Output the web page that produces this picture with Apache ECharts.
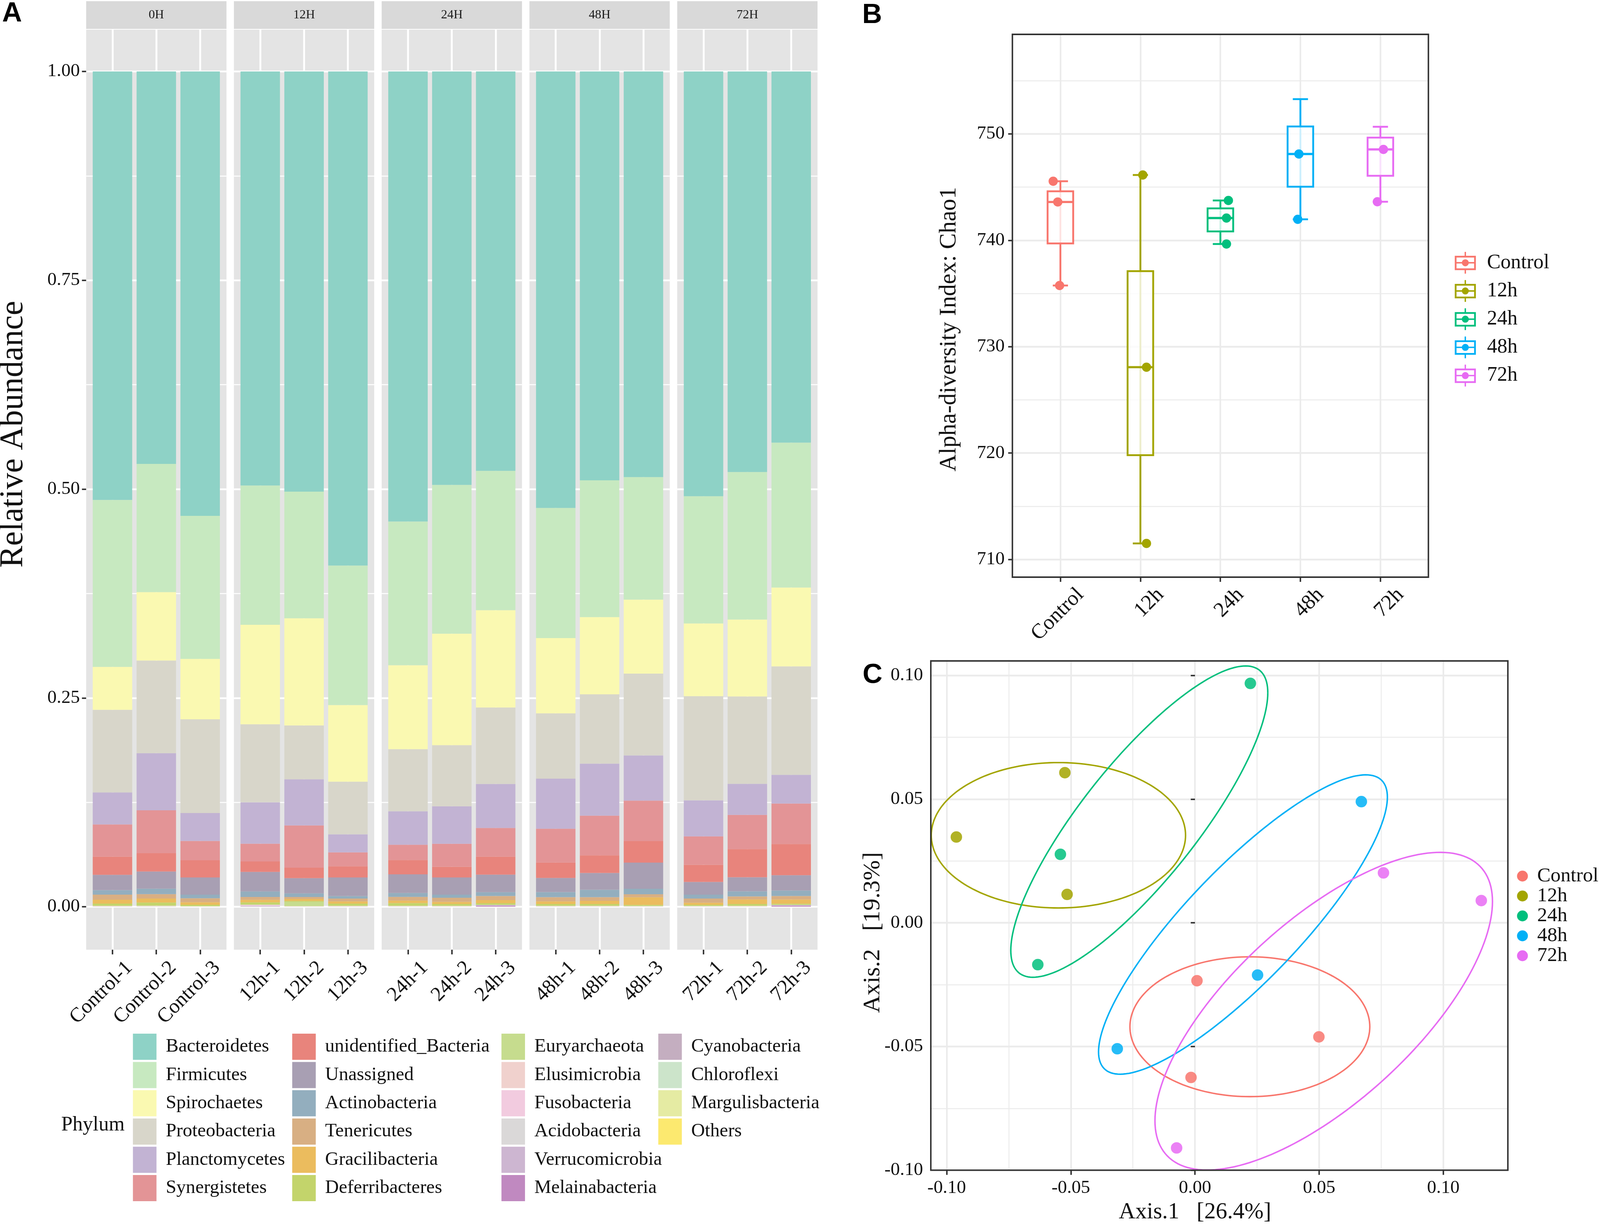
<!DOCTYPE html>
<html><head><meta charset="utf-8">
<script src="https://cdn.jsdelivr.net/npm/echarts@6/dist/echarts.min.js"></script>
<style>html,body{margin:0;padding:0;background:#fff;overflow:hidden}#c{width:100vw;height:100vh}</style>
</head><body><div id="c"></div>
<script>
// ---------------- Panel A data ----------------
const samples = ['Control-1','Control-2','Control-3','12h-1','12h-2','12h-3','24h-1','24h-2','24h-3','48h-1','48h-2','48h-3','72h-1','72h-2','72h-3'];
const facets = ['0H','12H','24H','48H','72H'];
const phyla = ['Bacteroidetes','Firmicutes','Spirochaetes','Proteobacteria','Planctomycetes','Synergistetes','unidentified_Bacteria','Unassigned','Actinobacteria','Tenericutes','Gracilibacteria','Deferribacteres','Euryarchaeota','Elusimicrobia','Fusobacteria','Acidobacteria','Verrucomicrobia','Melainabacteria','Cyanobacteria','Chloroflexi','Margulisbacteria','Others'];
const phylaColors = ['#8ED2C6','#C7E9C0','#FAF9B1','#D8D6CA','#C2B3D3','#E39496','#E8847C','#A89FB3','#93AEBE','#D8AF83','#EBBC5E','#C3D46B','#C6DC8E','#F0D1CD','#F2CBDF','#DAD8D8','#CDB6D1','#C089C0','#C4AEC0','#CCE4CA','#E5EBA3','#FCE96F'];

const Bacteroidetes   = [0.5133,0.4701,0.5323,0.4959,0.5032,0.5918,0.5391,0.4953,0.4783,0.5228,0.4898,0.4858,0.5088,0.4799,0.4446];
const Firmicutes      = [0.1998,0.1535,0.1713,0.1668,0.1516,0.1670,0.1720,0.1781,0.1668,0.1558,0.1637,0.1467,0.1523,0.1765,0.1734];
const Spirochaetes    = [0.0515,0.0819,0.0723,0.1191,0.1284,0.0918,0.1006,0.1335,0.1166,0.0902,0.0925,0.0886,0.0871,0.0922,0.0945];
const Proteobacteria  = [0.0988,0.1109,0.1122,0.0933,0.0644,0.0630,0.0743,0.0731,0.0915,0.0782,0.0829,0.0979,0.1247,0.1046,0.1298];
const Planctomycetes  = [0.0384,0.0684,0.0334,0.0496,0.0552,0.0216,0.0401,0.0449,0.0527,0.0599,0.0624,0.0541,0.0431,0.0371,0.0344];
const Synergistetes   = [0.0385,0.0514,0.0232,0.0213,0.0506,0.0166,0.0182,0.0275,0.0344,0.0405,0.0474,0.0486,0.0340,0.0409,0.0484];
const unidentified_Bacteria = [0.0218,0.0219,0.0205,0.0125,0.0126,0.0134,0.0172,0.0128,0.0214,0.0184,0.0212,0.0257,0.0206,0.0338,0.0374];
const Unassigned      = [0.0183,0.0206,0.0206,0.0233,0.0182,0.0222,0.0223,0.0206,0.0211,0.0170,0.0201,0.0313,0.0152,0.0168,0.0183];
const Actinobacteria  = [0.0054,0.0065,0.0043,0.0067,0.0043,0.0031,0.0047,0.0037,0.0046,0.0061,0.0089,0.0065,0.0047,0.0061,0.0066];
const Tenericutes     = [0.0061,0.0053,0.0048,0.0034,0.0024,0.0034,0.0044,0.0050,0.0049,0.0050,0.0044,0.0037,0.0050,0.0036,0.0041];
const Gracilibacteria = [0.0047,0.0048,0.0031,0.0030,0.0024,0.0027,0.0031,0.0025,0.0037,0.0031,0.0037,0.0091,0.0025,0.0055,0.0051];
const Deferribacteres = [0.0024,0.0035,0.0015,0.0026,0.0012,0.0024,0.0030,0.0020,0.0020,0.0020,0.0020,0.0012,0.0012,0.0020,0.0014];
const Euryarchaeota   = [0.0004,0.0005,0.0002,0.0005,0.0050,0.0004,0.0004,0.0004,0.0000,0.0004,0.0004,0.0003,0.0003,0.0004,0.0000];
const Elusimicrobia   = [0.0003,0.0003,0.0001,0.0000,0.0002,0.0003,0.0003,0.0003,0.0000,0.0003,0.0003,0.0002,0.0002,0.0003,0.0000];
const Fusobacteria    = [0.0003,0.0004,0.0002,0.0012,0.0003,0.0003,0.0003,0.0003,0.0000,0.0003,0.0003,0.0003,0.0003,0.0003,0.0000];
const Acidobacteria   = [0.0001,0.0001,0.0001,0.0001,0.0001,0.0001,0.0001,0.0001,0.0001,0.0001,0.0001,0.0001,0.0001,0.0001,0.0001];
const Verrucomicrobia = [0.0000,0.0000,0.0000,0.0008,0.0000,0.0000,0.0000,0.0000,0.0008,0.0000,0.0000,0.0000,0.0000,0.0000,0.0008];
const Melainabacteria = [0.0000,0.0000,0.0000,0.0000,0.0000,0.0000,0.0000,0.0000,0.0012,0.0000,0.0000,0.0000,0.0000,0.0000,0.0012];
const Cyanobacteria   = [0.0001,0.0000,0.0000,0.0000,0.0000,0.0001,0.0000,0.0000,0.0000,0.0000,0.0000,0.0000,0.0001,0.0000,0.0000];
const Chloroflexi     = [0.0000,0.0001,0.0000,0.0000,0.0000,0.0000,0.0001,0.0000,0.0000,0.0001,0.0000,0.0000,0.0000,0.0000,0.0000];
const Margulisbacteria= [0.0000,0.0000,0.0001,0.0000,0.0000,0.0000,0.0000,0.0001,0.0000,0.0000,0.0001,0.0000,0.0000,0.0001,0.0000];
const Others          = [0.0001,0.0001,0.0001,0.0001,0.0001,0.0001,0.0001,0.0001,0.0001,0.0001,0.0001,0.0001,0.0001,0.0001,0.0001];
const phylaValues = [Bacteroidetes,Firmicutes,Spirochaetes,Proteobacteria,Planctomycetes,Synergistetes,unidentified_Bacteria,Unassigned,Actinobacteria,Tenericutes,Gracilibacteria,Deferribacteres,Euryarchaeota,Elusimicrobia,Fusobacteria,Acidobacteria,Verrucomicrobia,Melainabacteria,Cyanobacteria,Chloroflexi,Margulisbacteria,Others];
const abundanceTicks = [0, 0.25, 0.5, 0.75, 1];

// ---------------- Panel B data ----------------
const groups = ['Control','12h','24h','48h','72h'];
const groupColors = ['#F8766D','#A3A500','#00BF7D','#00B0F6','#E76BF3'];
const chaoControl = [745.55, 743.60, 735.75];
const chao12h     = [746.14, 728.07, 711.50];
const chao24h     = [743.74, 742.09, 739.65];
const chao48h     = [753.27, 748.11, 741.97];
const chao72h     = [750.67, 748.54, 743.62];
const jitterControl = [-0.09, -0.033, -0.01];
const jitter12h     = [0.03, 0.076, 0.076];
const jitter24h     = [0.10, 0.076, 0.076];
const jitter48h     = [-0.086, -0.019, -0.033];
const jitter72h     = [0.038, 0.038, -0.038];
// [min, Q1, median, Q3, max]
const boxControl = [735.75, 739.70, 743.60, 744.60, 745.55];
const box12h     = [711.50, 719.80, 728.07, 737.10, 746.14];
const box24h     = [739.65, 740.83, 742.09, 743.00, 743.74];
const box48h     = [741.97, 745.04, 748.11, 750.70, 753.27];
const box72h     = [743.62, 746.06, 748.54, 749.65, 750.67];
const chaoTicks = [710, 720, 730, 740, 750];

// ---------------- Panel C data ----------------
const pcoaControl = [[0.0008,-0.0234],[0.0499,-0.0461],[-0.0016,-0.0625]];
const pcoa12h     = [[-0.0524,0.0607],[-0.0961,0.0347],[-0.0515,0.0115]];
const pcoa24h     = [[0.0223,0.0968],[-0.0542,0.0277],[-0.0633,-0.0169]];
const pcoa48h     = [[0.0670,0.0490],[0.0252,-0.0211],[-0.0313,-0.0509]];
const pcoa72h     = [[0.0759,0.0202],[0.1153,0.0090],[-0.0074,-0.0910]];
// ellipse: [centerX, centerY, halfWidthX, halfHeightY, yOffsetAtRightmost]
const ellControl = [0.0221,-0.0420,0.0483,0.02826,0.0];
const ell12h     = [-0.0550,0.0354,0.0512,0.02939,0.0];
const ell24h     = [-0.02243,0.04092,0.05175,0.06292,0.05207];
const ell48h     = [0.01932,-0.00068,0.05816,0.06051,0.05147];
const ell72h     = [0.05184,-0.03572,0.06796,0.06421,0.04431];

// ---------------- layout scaling (reference frame 4550 x 3137) ----------------
const el = document.getElementById('c');
const VW = el.clientWidth || window.innerWidth, VH = el.clientHeight || window.innerHeight;
const sx = VW/4550, sy = VH/3137, sg = Math.sqrt(sx*sy);
const X = v => v*sx, Y = v => v*sy;
const FL = v => v*sx;     // horizontal text that must keep its width
const FH = v => v*sg;     // general horizontal text / strokes
const FV = v => v*sy;     // vertical (rotated 90) text
const FD = v => v*sg;     // diagonal text

const FONT = 'Liberation Serif';
const TXT = '#111';
const chart = echarts.init(el, null, {renderer:'canvas'});
const grids=[], xAxes=[], yAxes=[], series=[], graphics=[], legends=[];
function addGrid(g){ grids.push(Object.assign({containLabel:false, outerBoundsMode:'none'}, g)); return grids.length-1; }
function hiddenAxes(gi){ xAxes.push({gridIndex:gi, type:'value', show:false}); yAxes.push({gridIndex:gi, type:'value', show:false}); }
const xTick = show => ({show:show, length:Y(12), lineStyle:{color:'#333', width:FH(4)}});
const yTick = show => ({show:show, length:X(12), lineStyle:{color:'#333', width:FH(4)}});
function yTitle(left, centerY, height, text, gap, size){
  const gi = addGrid({left:X(left), top:Y(centerY-height/2), width:X(10), height:Y(height)});
  xAxes.push({gridIndex:gi, type:'value', show:false});
  yAxes.push({gridIndex:gi, type:'value', show:true, axisLine:{show:false}, axisTick:{show:false}, axisLabel:{show:false}, splitLine:{show:false},
    name:text, nameLocation:'middle', nameGap:X(gap), nameTextStyle:{fontFamily:FONT, fontSize:FV(size), color:TXT}});
}
// 45-degree labels hung from their top-right corner (like hjust=1, vjust=1)
function diagLabel(size, margin, shift){
  return {interval:0, rotate:45, align:'right', verticalAlign:'top', fontFamily:FONT, fontSize:FD(size), color:TXT,
    padding:[FD(shift/0.7071),0,0,0], margin:Y(margin)-FD(shift)};
}

// ===== Panel A =====
const A_top=76, A_h=2356, A_y1=183, A_y0=2322, panelW=399, unitA=panelW/3.2, stepA=420.2, A_left0=245;
for (let f=0; f<5; f++) {
  const L = A_left0 + f*stepA;
  let gi = addGrid({left:X(L), top:Y(A_top), width:X(panelW), height:Y(A_h), show:true, backgroundColor:'#E4E4E4', borderWidth:0, z:-2});
  hiddenAxes(gi);
  gi = addGrid({left:X(L), top:Y(3), width:X(panelW), height:Y(71), show:true, backgroundColor:'#D9D9D9', borderWidth:0, z:-2});
  hiddenAxes(gi);
  graphics.push({type:'text', x:X(L+panelW/2), y:Y(39), style:{text:facets[f], fill:'#1A1A1A', font:FH(34)+'px "'+FONT+'"', textAlign:'center', textVerticalAlign:'middle'}});
  gi = addGrid({left:X(L+0.6*unitA), top:Y(A_top), width:X(2*unitA), height:Y(A_h)});
  xAxes.push({gridIndex:gi, type:'category', boundaryGap:false, data:samples.slice(3*f,3*f+3),
    axisLine:{show:false}, axisTick:xTick(true),
    axisLabel:diagLabel(55, 20, 26),
    splitLine:{show:true, lineStyle:{color:'#FFFFFF', width:FH(5)}}});
  yAxes.push({gridIndex:gi, type:'value', show:false, min:0, max:1});
  gi = addGrid({left:X(L), top:Y(A_y1), width:X(panelW), height:Y(A_y0-A_y1)});
  xAxes.push({gridIndex:gi, type:'value', show:false});
  yAxes.push({gridIndex:gi, type:'value', min:abundanceTicks[0], max:abundanceTicks[abundanceTicks.length-1], interval:0.25,
    axisLine:{show:false}, axisTick:yTick(f===0),
    axisLabel:{show:f===0, margin:X(18), fontFamily:FONT, fontSize:FH(50), color:TXT, formatter:v=>v.toFixed(2)},
    splitLine:{show:true, lineStyle:{color:'#FFFFFF', width:FH(4.5)}},
    minorTick:{show:false, splitNumber:2}, minorSplitLine:{show:true, lineStyle:{color:'#FFFFFF', width:FH(2.5)}}});
  gi = addGrid({left:X(L+0.1*unitA), top:Y(A_y1), width:X(3*unitA), height:Y(A_y0-A_y1)});
  const xi = xAxes.length, yi = yAxes.length;
  xAxes.push({gridIndex:gi, type:'category', show:false, data:samples.slice(3*f,3*f+3)});
  yAxes.push({gridIndex:gi, type:'value', show:false, min:0, max:1});
  for (let p=phyla.length-1; p>=0; p--) {
    series.push({type:'bar', name:phyla[p], xAxisIndex:xi, yAxisIndex:yi, stack:'A'+f, barWidth:'90%',
      itemStyle:{color:phylaColors[p]}, silent:true,
      data:phylaValues[p].slice(3*f,3*f+3)});
  }
}
yTitle(A_left0, 1112, 1200, 'Relative Abundance', 160, 84);
const legCols=[phyla.slice(0,6), phyla.slice(6,12), phyla.slice(12,18), phyla.slice(18)];
const legLefts=[378, 831, 1426, 1872];
legCols.forEach((d,c)=>legends.push({orient:'vertical', left:X(legLefts[c]), top:Y(2647), padding:0, itemWidth:X(67), itemHeight:Y(67), itemGap:Y(5.4),
  icon:'rect', selectedMode:false, data:d, textStyle:{fontFamily:FONT, fontSize:FL(54), color:TXT, padding:[0,0,0,X(21)]}}));
graphics.push({type:'text', x:X(174), y:Y(2881), style:{text:'Phylum', fill:TXT, font:FL(58)+'px "'+FONT+'"', textAlign:'left', textVerticalAlign:'middle'}});

// ===== Panel B =====
const B_L=2879, B_T=88, B_W=1183, B_H=1390, bandB=B_W/5.2, pxPerChao=27.24, y750=342.9;
const yB = v => y750 + (750 - v)*pxPerChao;
let gb = addGrid({left:X(B_L), top:Y(B_T), width:X(B_W), height:Y(B_H), show:true, borderColor:'#333', borderWidth:FH(4), backgroundColor:'transparent', z:5});
hiddenAxes(gb);
yTitle(B_L, 843, 1200, 'Alpha-diversity Index: Chao1', 146, 61);
gb = addGrid({left:X(B_L), top:Y(yB(755)), width:X(B_W), height:Y(yB(750)-yB(755))});
xAxes.push({gridIndex:gb, type:'value', show:false});
yAxes.push({gridIndex:gb, type:'value', min:750, max:755, interval:5, axisLine:{show:false}, axisTick:{show:false}, axisLabel:{show:false},
  splitLine:{show:true, lineStyle:{color:'#EBEBEB', width:FH(2.5)}}});
gb = addGrid({left:X(B_L+0.6*bandB), top:Y(B_T), width:X(4*bandB), height:Y(B_H)});
xAxes.push({gridIndex:gb, type:'category', boundaryGap:false, data:groups, axisLine:{show:false},
  axisTick:xTick(true),
  axisLabel:diagLabel(57, 18, 34),
  splitLine:{show:true, lineStyle:{color:'#EBEBEB', width:FH(4.5)}}});
yAxes.push({gridIndex:gb, type:'value', show:false});
gb = addGrid({left:X(B_L), top:Y(yB(750)), width:X(B_W), height:Y(yB(710)-yB(750))});
const bx = xAxes.length, by = yAxes.length;
xAxes.push({gridIndex:gb, type:'value', show:false, min:0.4, max:5.6});
yAxes.push({gridIndex:gb, type:'value', min:chaoTicks[0], max:chaoTicks[chaoTicks.length-1], interval:10,
  axisLine:{show:false}, axisTick:yTick(true),
  axisLabel:{margin:X(22), fontFamily:FONT, fontSize:FH(50), color:TXT},
  splitLine:{show:true, lineStyle:{color:'#EBEBEB', width:FH(4.5)}},
  minorTick:{show:false, splitNumber:2}, minorSplitLine:{show:true, lineStyle:{color:'#EBEBEB', width:FH(2.5)}}});
const chaoPoints=[chaoControl,chao12h,chao24h,chao48h,chao72h];
const jitters=[jitterControl,jitter12h,jitter24h,jitter48h,jitter72h];
const boxes=[boxControl,box12h,box24h,box48h,box72h];
groups.forEach((g,i)=>{
  const col=groupColors[i];
  series.push({type:'custom', name:g, xAxisIndex:bx, yAxisIndex:by, silent:true, z:3,
    itemStyle:{color:col},
    data:[[i+1].concat(boxes[i])],
    renderItem:(params, api)=>{
      const x=api.value(0);
      const pMin=api.coord([x,api.value(1)]), pQ1=api.coord([x,api.value(2)]), pMd=api.coord([x,api.value(3)]),
            pQ3=api.coord([x,api.value(4)]), pMax=api.coord([x,api.value(5)]);
      const band=api.size([1,0])[0], hw=band*0.16, cw=band*0.095, cx=pMd[0];
      const ls={stroke:col, lineWidth:FH(5), fill:null};
      return {type:'group', children:[
        {type:'line', shape:{x1:cx,y1:pMin[1],x2:cx,y2:pMax[1]}, style:ls},
        {type:'line', shape:{x1:cx-cw,y1:pMin[1],x2:cx+cw,y2:pMin[1]}, style:ls},
        {type:'line', shape:{x1:cx-cw,y1:pMax[1],x2:cx+cw,y2:pMax[1]}, style:ls},
        {type:'rect', shape:{x:cx-hw,y:pQ3[1],width:2*hw,height:pQ1[1]-pQ3[1]}, style:{stroke:col, lineWidth:FH(5), fill:'rgba(255,255,255,0.8)'}},
        {type:'line', shape:{x1:cx-hw,y1:pMd[1],x2:cx+hw,y2:pMd[1]}, style:{stroke:col, lineWidth:FH(6)}}
      ]};
    }});
  series.push({type:'scatter', name:g, xAxisIndex:bx, yAxisIndex:by, silent:true, z:4, symbol:'circle', symbolSize:FH(25),
    itemStyle:{color:col, opacity:1},
    data:chaoPoints[i].map((v,k)=>[i+1+jitters[i][k], v])});
});
const boxIcon='path://M0 11 L60 11 L60 52 L0 52 Z M5 16 L5 29 L55 29 L55 16 Z M5 33 L5 47 L55 47 L55 33 Z M28 0 L32 0 L32 11 L28 11 Z M28 52 L32 52 L32 62 L28 62 Z M20 31 A10 10 0 1 1 40 31 A10 10 0 1 1 20 31 Z';
legends.push({orient:'vertical', left:X(4137), top:Y(645), padding:0, itemWidth:X(60), itemHeight:Y(62), itemGap:Y(16.4), selectedMode:false,
  data:groups.map(g=>({name:g, icon:boxIcon})), textStyle:{fontFamily:FONT, fontSize:FL(58), color:TXT, padding:[0,0,0,X(26)]}});

// ===== Panel C =====
const C_L=2647, C_T=1692.5, C_R=4288, C_B=2996.6;
const pxPerX=7061.5, x0C=3398.25, pxPerY=6334.5, y0C=2363.2;
let gc = addGrid({left:X(C_L), top:Y(C_T), width:X(C_R-C_L), height:Y(C_B-C_T), show:true, borderColor:'#333', borderWidth:FH(4), backgroundColor:'transparent', z:5});
hiddenAxes(gc);
gc = addGrid({left:X(x0C-0.1*pxPerX), top:Y(C_T), width:X(0.2*pxPerX), height:Y(C_B-C_T)});
xAxes.push({gridIndex:gc, type:'value', min:-0.1, max:0.1, interval:0.05, axisLine:{show:false},
  axisTick:xTick(true),
  axisLabel:{margin:Y(22), fontFamily:FONT, fontSize:FH(50), color:TXT, formatter:v=>v.toFixed(2)},
  splitLine:{show:true, lineStyle:{color:'#EBEBEB', width:FH(4.5)}},
  minorTick:{show:false, splitNumber:2}, minorSplitLine:{show:true, lineStyle:{color:'#EBEBEB', width:FH(2.5)}},
  name:'Axis.1   [26.4%]', nameLocation:'middle', nameGap:Y(78), nameTextStyle:{fontFamily:FONT, fontSize:FH(62), color:TXT}});
yAxes.push({gridIndex:gc, type:'value', show:false});
gc = addGrid({left:X(C_L), top:Y(y0C-0.1*pxPerY), width:X(C_R-C_L), height:Y(0.2*pxPerY)});
const cx_ = xAxes.length, cy_ = yAxes.length;
xAxes.push({gridIndex:gc, type:'value', show:false, min:(C_L-x0C)/pxPerX, max:(C_R-x0C)/pxPerX});
yAxes.push({gridIndex:gc, type:'value', min:-0.1, max:0.1, interval:0.05, axisLine:{show:false},
  axisTick:yTick(true),
  axisLabel:{margin:X(22), fontFamily:FONT, fontSize:FH(50), color:TXT, formatter:v=>v.toFixed(2)},
  splitLine:{show:true, lineStyle:{color:'#EBEBEB', width:FH(4.5)}},
  minorTick:{show:false, splitNumber:2}, minorSplitLine:{show:true, lineStyle:{color:'#EBEBEB', width:FH(2.5)}}});
yTitle(C_L, 2388, 1000, 'Axis.2   [19.3%]', 130, 62);
const pcoas=[pcoaControl,pcoa12h,pcoa24h,pcoa48h,pcoa72h];
const ells=[ellControl,ell12h,ell24h,ell48h,ell72h];
groups.forEach((g,i)=>{
  const col=groupColors[i];
  series.push({type:'custom', name:'ellipse '+g, xAxisIndex:cx_, yAxisIndex:cy_, silent:true, z:3,
    data:[ells[i]],
    renderItem:(params, api)=>{
      const cxv=api.value(0), cyv=api.value(1), W=api.value(2), Hh=api.value(3), k=api.value(4);
      const s=Math.sqrt(Math.max(Hh*Hh-k*k,0));
      const pts=[];
      for (let j=0;j<=180;j++){ const t=j/180*2*Math.PI;
        pts.push(api.coord([cxv+W*Math.cos(t), cyv+k*Math.cos(t)+s*Math.sin(t)])); }
      return {type:'polyline', shape:{points:pts}, style:{stroke:col, lineWidth:FH(4), fill:null}};
    }});
  series.push({type:'scatter', name:g, xAxisIndex:cx_, yAxisIndex:cy_, silent:true, z:4, symbol:'circle', symbolSize:FH(31),
    itemStyle:{color:col, opacity:0.85}, data:pcoas[i]});
});
legends.push({orient:'vertical', left:X(4314), top:Y(2218), padding:0, itemWidth:X(31), itemHeight:Y(31), itemGap:0, icon:'circle', selectedMode:false,
  data:groups, textStyle:{fontFamily:FONT, fontSize:FL(57), color:TXT, lineHeight:Y(49.7), padding:[0,0,0,X(21)]}});

// panel letters
const LET = 'bold '+FH(74)+'px "Liberation Sans"';
graphics.push({type:'text', x:X(6), y:Y(36), style:{text:'A', fill:'#000', font:LET, textAlign:'left', textVerticalAlign:'middle'}});
graphics.push({type:'text', x:X(2452), y:Y(40), style:{text:'B', fill:'#000', font:LET, textAlign:'left', textVerticalAlign:'middle'}});
graphics.push({type:'text', x:X(2453), y:Y(1730), style:{text:'C', fill:'#000', font:LET, textAlign:'left', textVerticalAlign:'middle'}});

chart.setOption({
  animation:false,
  backgroundColor:'#FFFFFF',
  textStyle:{fontFamily:FONT},
  grid:grids, xAxis:xAxes, yAxis:yAxes, series:series, legend:legends,
  graphic:{elements:graphics}
});
</script></body></html>
